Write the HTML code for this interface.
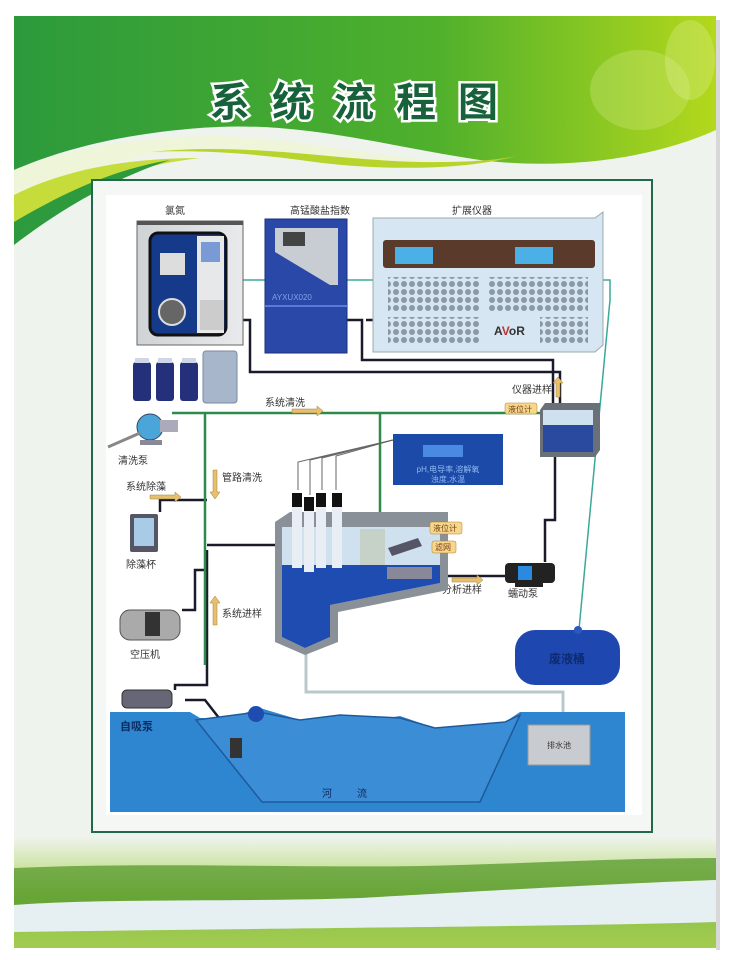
<!DOCTYPE html>
<html><head><meta charset="utf-8"><style>
html,body{margin:0;padding:0;background:#fff;}
svg{display:block;font-family:"Liberation Sans","Noto Sans CJK SC",sans-serif;}
</style></head><body>
<svg width="731" height="960" viewBox="0 0 731 960" xmlns="http://www.w3.org/2000/svg">
<defs>
<linearGradient id="hdr" x1="0" y1="0" x2="1" y2="0">
<stop offset="0" stop-color="#2c9a3c"/><stop offset="0.6" stop-color="#4fb02c"/><stop offset="1" stop-color="#b4d81c"/></linearGradient>
<linearGradient id="grass" x1="0" y1="0" x2="0" y2="1">
<stop offset="0" stop-color="#eef3ea"/><stop offset="0.3" stop-color="#c8e29a"/><stop offset="0.55" stop-color="#8cc04a"/><stop offset="1" stop-color="#a2cc50"/></linearGradient>
<linearGradient id="dev" x1="0" y1="0" x2="1" y2="0"><stop offset="0" stop-color="#cfd3d6"/><stop offset="1" stop-color="#e8eaec"/></linearGradient>
<pattern id="dots" width="8" height="8" patternUnits="userSpaceOnUse"><circle cx="4" cy="4" r="3" fill="#8c99a6"/></pattern>
</defs>
<rect width="731" height="960" fill="#fff"/>
<rect x="14" y="16" width="702" height="932" fill="#eef3ee"/>
<rect x="716" y="20" width="4" height="930" fill="#d8d8d8"/>
<!-- header -->
<path d="M14 16 H716 V130 C650 160 560 170 480 160 C380 145 300 120 200 128 C120 134 60 150 14 170 Z" fill="url(#hdr)"/>
<path d="M14 170 C70 148 140 136 220 136 C300 138 380 160 480 162 C400 175 300 150 210 150 C130 152 60 175 14 200 Z" fill="#eef5d8"/>
<path d="M14 195 C60 172 120 158 200 158 C130 166 70 190 14 222 Z" fill="#c6dc3a"/>
<path d="M14 222 C60 195 110 170 170 160 C110 180 60 210 14 245 Z" fill="#2e9a3e"/>
<path d="M150 152 C250 142 330 160 420 162 C480 163 510 158 520 155 C470 170 380 172 300 160 C240 152 190 150 150 152Z" fill="#b7d42c"/>
<ellipse cx="640" cy="90" rx="50" ry="40" fill="#d8ec8a" opacity="0.3"/>
<ellipse cx="690" cy="60" rx="25" ry="40" fill="#e4f2a0" opacity="0.3"/>
<text x="365" y="116" text-anchor="middle" font-size="40" font-weight="bold" fill="#17623a" stroke="#fff" stroke-width="5" paint-order="stroke" letter-spacing="22" font-family="'Noto Sans CJK SC',sans-serif">系统流程图</text>
<!-- bottom landscape -->
<rect x="14" y="838" width="702" height="110" fill="url(#grass)"/>
<path d="M14 868 C150 862 300 868 420 866 C520 864 620 858 716 858 V880 C600 884 450 900 300 902 C200 904 100 902 14 905Z" fill="#5e9e32" opacity="0.8"/>
<path d="M14 905 C100 898 250 902 360 898 C450 893 600 884 716 880 V922 C600 926 300 928 14 932 Z" fill="#e6eff2"/>
<!-- frame -->
<rect x="92" y="180" width="560" height="652" fill="#f4f7f4" stroke="#1e6a4a" stroke-width="2"/>
<rect x="106" y="195" width="536" height="620" fill="#fff"/>
<g font-size="10" fill="#333" text-anchor="middle">
<text x="175" y="214">氯氮</text><text x="320" y="214">高锰酸盐指数</text><text x="472" y="214">扩展仪器</text></g>
<polyline points="243,280 603,280 610,280 610,300 578,640" fill="none" stroke="#3aa99a" stroke-width="1.5"/>
<g fill="none" stroke="#1a1a2a" stroke-width="2.5">
<polyline points="243,320 250,320 250,372 560,372 560,405"/>
<polyline points="347,320 362,320 362,360 553,360 553,405"/>
<polyline points="373,320 366,320"/>
<polyline points="555,457 555,520 545,520 545,562"/>
<polyline points="440,576 505,576"/>
<polyline points="275,545 207,545"/>
<polyline points="207,500 160,500 160,512"/>
<polyline points="207,550 207,685 175,685 175,690"/>
<polyline points="185,700 205,700 240,745"/>
<polyline points="182,610 195,610 195,570 207,570"/>
</g>
<g fill="none" stroke="#2e8a4a" stroke-width="2.5">
<polyline points="172,413 542,413"/>
<polyline points="205,413 205,665"/>
<polyline points="380,413 380,515"/>
</g>
<polyline points="306,650 306,692 563,692 563,725" fill="none" stroke="#b8c8cc" stroke-width="3"/>
<!-- analyzer 1 -->
<rect x="137" y="221" width="106" height="124" fill="url(#dev)" stroke="#666"/>
<rect x="137" y="221" width="106" height="4" fill="#555"/>
<rect x="150" y="233" width="76" height="102" rx="8" fill="#163a8a" stroke="#111" stroke-width="3"/>
<rect x="197" y="236" width="27" height="97" fill="#e6e8ea"/>
<rect x="201" y="242" width="19" height="20" fill="#7a9ad6"/>
<rect x="200" y="300" width="24" height="30" fill="#ccc"/>
<rect x="160" y="253" width="25" height="22" fill="#ddd"/>
<circle cx="172" cy="312" r="13" fill="#666" stroke="#ddd" stroke-width="2"/>
<g fill="#24307a"><rect x="133" y="362" width="18" height="39" rx="3"/><rect x="156" y="362" width="18" height="39" rx="3"/><rect x="180" y="362" width="18" height="39" rx="3"/></g>
<g fill="#cfd6e8"><rect x="135" y="358" width="14" height="5"/><rect x="158" y="358" width="14" height="5"/><rect x="182" y="358" width="14" height="5"/></g>
<rect x="203" y="351" width="34" height="52" rx="3" fill="#a8b6cc" stroke="#7b8aa2"/>
<!-- analyzer 2 -->
<rect x="265" y="219" width="82" height="134" fill="#2a48a8" stroke="#1a2f78"/>
<polygon points="275,228 338,228 338,285 330,285 275,252" fill="#c8cdd4"/>
<rect x="283" y="232" width="22" height="14" fill="#444"/>
<rect x="265" y="305" width="82" height="2" fill="#5a7ad6"/>
<text x="272" y="300" font-size="8" fill="#7ea0e8">AYXUX020</text>
<!-- expansion -->
<polygon points="373,218 595,218 603,212 603,345 595,352 373,352" fill="#d6e6f2" stroke="#9aa"/>
<rect x="383" y="240" width="212" height="28" rx="3" fill="#5a3a2a"/>
<rect x="395" y="247" width="38" height="17" fill="#4ab0e6"/>
<rect x="515" y="247" width="38" height="17" fill="#4ab0e6"/>
<rect x="388" y="277" width="92" height="36" fill="url(#dots)"/>
<rect x="488" y="277" width="100" height="36" fill="url(#dots)"/>
<rect x="388" y="317" width="92" height="26" fill="url(#dots)"/>
<rect x="540" y="317" width="48" height="26" fill="url(#dots)"/>
<text x="494" y="335" font-size="12" font-weight="bold" fill="#333">A<tspan fill="#c03030">V</tspan>oR</text>
<!-- vessel -->
<polygon points="540,410 545,403 600,403 600,450 595,457 540,457" fill="#6a7078"/>
<rect x="543" y="410" width="50" height="42" fill="#cfe0ee"/>
<rect x="543" y="425" width="50" height="27" fill="#2a4aa0"/>
<text x="512" y="393" font-size="10" fill="#333">仪器进样</text>
<path d="M556 397 V383 h-3 l5 -6 5 6 h-3 V397Z" fill="#e6c070" stroke="#a08030" stroke-width="0.5"/>
<rect x="505" y="403" width="32" height="11" rx="2" fill="#f6d88a" stroke="#b08030" stroke-width="0.5"/>
<text x="508" y="412" font-size="8" fill="#7a3a1a">液位计</text>
<g font-size="10" fill="#333">
<text x="265" y="406">系统清洗</text>
<text x="118" y="464">清洗泵</text>
<text x="222" y="481">管路清洗</text>
<text x="126" y="490">系统除藻</text>
<text x="126" y="568">除藻杯</text>
<text x="222" y="617">系统进样</text>
<text x="130" y="658">空压机</text>
<text x="442" y="593">分析进样</text>
<text x="508" y="597">蠕动泵</text>
</g>
<g fill="#e6c070" stroke="#a08030" stroke-width="0.5">
<path d="M292 409 h25 v-3 l6 5 -6 5 v-3 h-25Z"/>
<path d="M150 495 h25 v-3 l6 5 -6 5 v-3 h-25Z"/>
<path d="M452 578 h25 v-3 l6 5 -6 5 v-3 h-25Z"/>
<path d="M213 470 v22 h-3 l5 7 5 -7 h-3 v-22Z"/>
<path d="M213 625 v-22 h-3 l5 -7 5 7 h-3 v22Z"/>
</g>
<circle cx="150" cy="427" r="13" fill="#4aa6d8" stroke="#346"/>
<rect x="160" y="420" width="18" height="12" fill="#aab"/>
<path d="M108 447 L140 433" stroke="#888" stroke-width="3"/>
<rect x="140" y="440" width="22" height="5" fill="#889"/>
<rect x="130" y="514" width="28" height="38" fill="#556" rx="2"/>
<rect x="134" y="518" width="20" height="28" fill="#a8cce8"/>
<rect x="120" y="610" width="60" height="30" rx="10" fill="#aaa" stroke="#555"/>
<rect x="145" y="612" width="15" height="24" fill="#333"/>
<!-- display -->
<rect x="393" y="434" width="110" height="51" fill="#1c4aa8"/>
<rect x="423" y="445" width="40" height="12" fill="#4a8ae0"/>
<text x="448" y="472" font-size="8" fill="#8fb8f0" text-anchor="middle">pH,电导率,溶解氧</text>
<text x="448" y="482" font-size="8" fill="#8fb8f0" text-anchor="middle">浊度,水温</text>
<g stroke="#666" stroke-width="1" fill="none"><path d="M298 490 L298 462 L393 440"/><path d="M310 495 L310 460 L393 440"/><path d="M322 490 L322 458 L393 440"/><path d="M336 490 L336 456 L393 440"/></g>
<!-- main tank -->
<polygon points="275,522 290,512 448,512 448,590 338,612 338,642 305,655 275,642" fill="#8a9098"/>
<polygon points="282,527 440,527 440,583 330,605 330,637 305,648 282,637" fill="#cfe0ee"/>
<polygon points="282,565 440,565 440,583 330,605 330,637 305,648 282,637" fill="#1e4cb0"/>
<g fill="#e8eef4"><rect x="292" y="498" width="10" height="70"/><rect x="304" y="500" width="10" height="72"/><rect x="316" y="498" width="10" height="70"/><rect x="332" y="498" width="10" height="70"/></g>
<g fill="#111"><rect x="292" y="493" width="10" height="14"/><rect x="304" y="497" width="10" height="14"/><rect x="316" y="493" width="10" height="14"/><rect x="332" y="493" width="10" height="14"/></g>
<rect x="360" y="529" width="25" height="36" fill="#c6d2c8"/>
<rect x="387" y="567" width="45" height="12" fill="#889"/>
<polygon points="388,548 418,538 422,546 392,556" fill="#556"/>
<rect x="430" y="522" width="32" height="12" rx="2" fill="#f6d88a" stroke="#b08030" stroke-width="0.5"/>
<text x="433" y="531" font-size="8" fill="#7a3a1a">液位计</text>
<rect x="432" y="541" width="24" height="12" rx="2" fill="#f6d88a" stroke="#b08030" stroke-width="0.5"/>
<text x="435" y="550" font-size="8" fill="#7a3a1a">滤网</text>
<rect x="505" y="563" width="50" height="20" rx="4" fill="#222"/>
<rect x="518" y="566" width="14" height="14" fill="#2a8ae0"/>
<rect x="515" y="583" width="28" height="4" fill="#222"/>
<rect x="515" y="630" width="105" height="55" rx="20" fill="#1e48b0"/>
<circle cx="578" cy="630" r="4" fill="#2a5ac0"/>
<text x="567" y="663" font-size="12" fill="#0e2a70" text-anchor="middle" font-weight="bold">废液桶</text>
<rect x="122" y="690" width="50" height="18" rx="5" fill="#667" stroke="#333"/>
<!-- river -->
<polygon points="110,712 190,712 200,718 230,718 260,708 300,720 340,715 360,722 400,716 435,728 480,724 505,722 520,712 625,712 625,812 110,812" fill="#2e86d0"/>
<polygon points="196,720 258,712 300,720 340,715 400,718 435,728 505,722 520,715 480,802 262,802" fill="#3b8ed6" stroke="#1e5a9a" stroke-width="1.5"/>
<circle cx="256" cy="714" r="8" fill="#1e4cb0"/>
<rect x="230" y="738" width="12" height="20" fill="#333"/>
<rect x="528" y="725" width="62" height="40" fill="#c8ccd0" stroke="#999"/>
<text x="559" y="748" font-size="8" fill="#333" text-anchor="middle">排水池</text>
<text x="120" y="730" font-size="11" font-weight="bold" fill="#0e2a60">自吸泵</text>
<text x="322" y="797" font-size="10" fill="#0e2a60">河</text>
<text x="357" y="797" font-size="10" fill="#0e2a60">流</text>
</svg>
</body></html>
